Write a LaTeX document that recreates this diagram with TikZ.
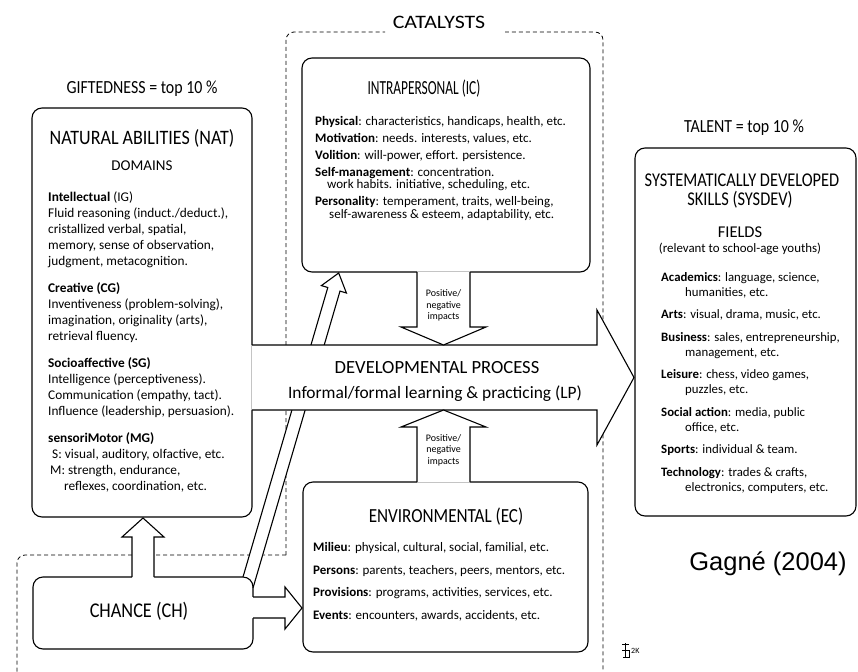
\documentclass[tikz,border=0pt]{standalone}
\usepackage{fontspec}
\setmainfont{Carlito}
\newfontfamily\citefont{Liberation Sans}
\tikzset{
  frame/.style={line width=1.1pt, rounded corners=10},
  catline/.style={line width=0.8pt, dash pattern=on 4pt off 3pt, rounded corners=8},
  arrowline/.style={line width=1.1pt},
  headtext/.style={inner sep=0pt, anchor=base},
  bodytext/.style={inner sep=0pt, anchor=north west, align=left},
  impacttext/.style={inner sep=0pt, align=center, font=\fontsize{10}{11.5}\selectfont},
}
\begin{document}
\begin{tikzpicture}[x=1pt, y=-1pt]
    \useasboundingbox (0,0) rectangle (858,671);

    %% catalysts outline
    \draw[catline] (286,555) -- (286,32) -- (385,32);
    \draw[catline] (286,555) -- (17,555) -- (17,680) -- (603,680) -- (603,32) -- (505,32);

    %% boxes
    \draw[frame] (32,108) rectangle (252,517);
    \draw[frame] (302,58) rectangle (590,272);
    \draw[frame] (303,482) rectangle (588,652);
    \draw[frame] (33,577) rectangle (253,649);
    \draw[frame] (635,148) rectangle (856,516);

    %% chance to intrapersonal
    \fill[white] (243,576.3) -- (327.8,287.5) -- (321.4,285.6) -- (338.7,273) -- (346.4,293) -- (340,291.1) -- (253.7,588) -- (253.7,576.3) -- cycle;
    \draw[arrowline] (243,577) -- (327.8,287.5) -- (321.4,285.6) -- (338.7,273) -- (346.4,293) -- (340,291.1) -- (253,588);
    %% chance to environmental
    \fill[white] (251.4,597) -- (285,597) -- (285,587) -- (302,608) -- (285,629) -- (285,618) -- (251.4,618) -- cycle;
    \draw[arrowline] (253,597) -- (285,597) -- (285,587) -- (302,608) -- (285,629) -- (285,618) -- (253,618);
    %% chance to natural abilities
    \fill[white] (132,578.6) -- (132,537) -- (122,537) -- (143,518) -- (164,537) -- (154,537) -- (154,578.6) -- cycle;
    \draw[arrowline] (132,577) -- (132,537) -- (122,537) -- (143,518) -- (164,537) -- (154,537) -- (154,577);

    %% developmental process
    \fill[white] (251.4,345) -- (597,345) -- (597,310) -- (634,377.5) -- (597,445) -- (597,410) -- (251.4,410) -- cycle;
    \draw[arrowline] (252,345) -- (597,345) -- (597,310) -- (634,377.5) -- (597,445) -- (597,410) -- (252,410);

    %% impacts
    \fill[white] (417,271.4) -- (417,327) -- (401,327) -- (443.5,345) -- (486,327) -- (470,327) -- (470,271.4) -- cycle;
    \draw[arrowline] (417,272) -- (417,327) -- (401,327) -- (443.5,345) -- (486,327) -- (470,327) -- (470,272);
    \fill[white] (417,482.6) -- (417,427) -- (401,427) -- (443.5,410) -- (486,427) -- (470,427) -- (470,482.6) -- cycle;
    \draw[arrowline] (417,482) -- (417,427) -- (401,427) -- (443.5,410) -- (486,427) -- (470,427) -- (470,482);
    \node[impacttext] (icimpact) at (443.5,305.5) {Positive/\\negative\\impacts};
    \node[impacttext] (ecimpact) at (443.5,450) {Positive/\\negative\\impacts};

    %%headings
    \node[headtext, font=\fontsize{18.5}{18.5}\selectfont] (gifted) at (142,93.5) {\scalebox{0.86}[1]{GIFTEDNESS = top 10 \%}};
    \node[headtext, font=\fontsize{18.5}{18.5}\selectfont] (talent) at (744,133) {\scalebox{0.86}[1]{TALENT = top 10 \%}};
    \node[headtext, font=\fontsize{19}{19}\selectfont] (catalysts) at (439,28.5) {\scalebox{1.15}[1]{CATALYSTS}};
    \node[headtext, font=\fontsize{20.5}{20.5}\selectfont] (nattitle) at (142,145) {\scalebox{0.88}[1]{NATURAL ABILITIES (NAT)}};
    \node[headtext, font=\fontsize{15}{15}\selectfont] (domains) at (142,170) {DOMAINS};
    \node[headtext, font=\fontsize{20}{20}\selectfont] (ictitle) at (424,94.5) {\scalebox{0.67}[1]{INTRAPERSONAL (IC)}};
    \node[headtext, font=\fontsize{20}{20}\selectfont] (ectitle) at (446,522) {\scalebox{0.855}[1]{ENVIRONMENTAL (EC)}};
    \node[headtext, font=\fontsize{21}{21}\selectfont] (chance) at (139,617.5) {\scalebox{0.87}[1]{CHANCE (CH)}};
    \node[headtext, font=\fontsize{19.5}{19.5}\selectfont] (systitle) at (742,186) {\scalebox{0.84}[1]{SYSTEMATICALLY DEVELOPED}};
    \node[headtext, font=\fontsize{19.5}{19.5}\selectfont] (systitleb) at (740,205) {\scalebox{0.84}[1]{SKILLS (SYSDEV)}};
    \node[headtext, font=\fontsize{16.5}{16.5}\selectfont] (fields) at (740,237) {FIELDS};
    \node[headtext, font=\fontsize{12.9}{12.9}\selectfont] (relevant) at (740,252) {(relevant to school-age youths)};
    \node[headtext, font=\fontsize{18.6}{18.6}\selectfont] (devproc) at (437,373) {DEVELOPMENTAL PROCESS};
    \node[headtext, font=\fontsize{17.4}{17.4}\selectfont] (learning) at (435,398.5) {Informal/formal learning \& practicing (LP)};

    %%box contents
    \node[bodytext, font=\fontsize{13.3}{16}\selectfont] (natbody) at (48,192) {%
        \textbf{Intellectual} (IG)\\
        Fluid reasoning (induct./deduct.),\\
        cristallized verbal, spatial,\\
        memory, sense of observation,\\
        judgment, metacognition.\\[11pt]
        \textbf{Creative (CG)}\\
        Inventiveness (problem-solving),\\
        imagination, originality (arts),\\
        retrieval fluency.\\[11pt]
        \textbf{Socioaffective (SG)}\\
        Intelligence (perceptiveness).\\
        Communication (empathy, tact).\\
        Influence (leadership, persuasion).\\[11pt]
        \textbf{sensoriMotor (MG)}\\
        \hspace*{4pt}S: visual, auditory, olfactive, etc.\\
        \hspace*{2pt}M: strength, endurance,\\
        \hspace*{16pt}reflexes, coordination, etc.};
    \node[bodytext, font=\fontsize{13}{12.5}\selectfont] (icbody) at (315,116) {%
        \textbf{Physical}: characteristics, handicaps, health, etc.\\[4.5pt]
        \textbf{Motivation}: needs. interests, values, etc.\\[4.5pt]
        \textbf{Volition}: will-power, effort. persistence.\\[4.5pt]
        \textbf{Self-management}: concentration.\\
        \hspace*{12pt}work habits. initiative, scheduling, etc.\\[4.5pt]
        \textbf{Personality}: temperament, traits, well-being,\\
        \hspace*{14pt}self-awareness \& esteem, adaptability, etc.};
    \node[bodytext, font=\fontsize{13}{22.7}\selectfont] (ecbody) at (313,542) {%
        \textbf{Milieu}: physical, cultural, social, familial, etc.\\
        \textbf{Persons}: parents, teachers, peers, mentors, etc.\\
        \textbf{Provisions}: programs, activities, services, etc.\\
        \textbf{Events}: encounters, awards, accidents, etc.};
    \node[bodytext, font=\fontsize{12.8}{15}\selectfont] (sysbody) at (661,272) {%
        \textbf{Academics}: language, science,\\
        \hspace*{24pt}humanities, etc.\\[7.5pt]
        \textbf{Arts}: visual, drama, music, etc.\\[7.5pt]
        \textbf{Business}: sales, entrepreneurship,\\
        \hspace*{24pt}management, etc.\\[7.5pt]
        \textbf{Leisure}: chess, video games,\\
        \hspace*{24pt}puzzles, etc.\\[7.5pt]
        \textbf{Social action}: media, public\\
        \hspace*{24pt}office, etc.\\[7.5pt]
        \textbf{Sports}: individual \& team.\\[7.5pt]
        \textbf{Technology}: trades \& crafts,\\
        \hspace*{24pt}electronics, computers, etc.};

    %%source
    \node[headtext, font=\citefont\fontsize{25.5}{25.5}\selectfont] (source) at (768,570) {Gagné (2004)};
    \draw[line width=0.6pt] (622,644) -- (629,644) (625.5,643) -- (625.5,657) (622,650) -- (629,650) (623,657) -- (630,657) (629,650) -- (629,657);
    \node[inner sep=0pt, anchor=west, font=\fontsize{8}{8}\selectfont] (mark) at (631,651) {2K};
\end{tikzpicture}
\end{document}
